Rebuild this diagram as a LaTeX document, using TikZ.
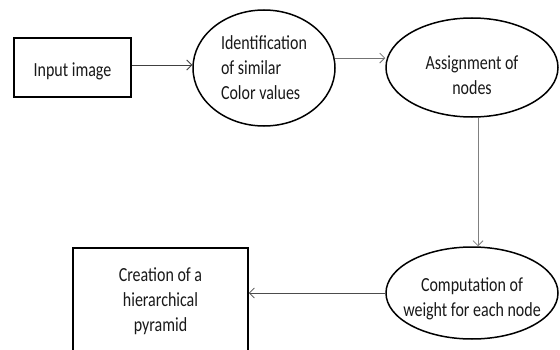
\documentclass[tikz,border=0pt]{standalone}
\usepackage{fontspec}
\setmainfont{Carlito}
\usetikzlibrary{shapes.geometric,arrows.meta}
\begin{document}
\begin{tikzpicture}[x=1pt,y=1pt,
  txt/.style={font=\fontsize{16}{20}\selectfont, text=black!90, inner sep=0pt, yscale=1.25, transform shape},
  boxnode/.style={draw=black, line width=1.6pt, inner sep=0pt},
  ellnode/.style={ellipse, draw=black, line width=1.5pt, inner sep=0pt},
  conn/.style={line width=0.8pt, -{Straight Barb[length=5pt,width=10pt,line width=0.8pt]}}
]
\useasboundingbox (0,0) rectangle (560,349);
\clip (0,0) rectangle (560,349);
\fill[white] (0,0) rectangle (560,349);
% nodes
\node[boxnode, minimum width=117pt, minimum height=59pt] (in) at (72.5,281.5) {};
\node[ellnode, minimum width=142pt, minimum height=116pt] (e1) at (264,281) {};
\node[ellnode, minimum width=172pt, minimum height=99pt] (e2) at (472,281.5) {};
\node[ellnode, minimum width=172pt, minimum height=92pt] (e3) at (472,56) {};
\node[boxnode, minimum width=175pt, minimum height=120pt] (b2) at (160.5,41) {};
% labels
\node[txt] (intxt) at (72.5,278) {Input image};
\node[txt, align=left] (e1txt) at (264,281) {Identification\\of similar\\Color values};
\node[txt, align=center] (e2txt) at (472,273.5) {Assignment of\\nodes};
\node[txt, align=center] (e3txt) at (472,50) {Computation of\\weight for each node};
\node[txt, align=center] (b2txt) at (160.5,48) {Creation of a\\hierarchical\\pyramid};
% connectors
\draw[conn, draw=black!75] ([yshift=2.5pt]in.east) -- ([yshift=2.5pt]in.east -| e1.west);
\draw[conn, draw=black!55] (e1.8) -- (e1.8 -| e2.west);
\draw[conn, draw=black!50] ([xshift=6pt]e2.south) -- ([xshift=6pt]e3.north);
\draw[conn, draw=black!70] (e3.west) -- (e3.west -| b2.east);
\end{tikzpicture}
\end{document}
